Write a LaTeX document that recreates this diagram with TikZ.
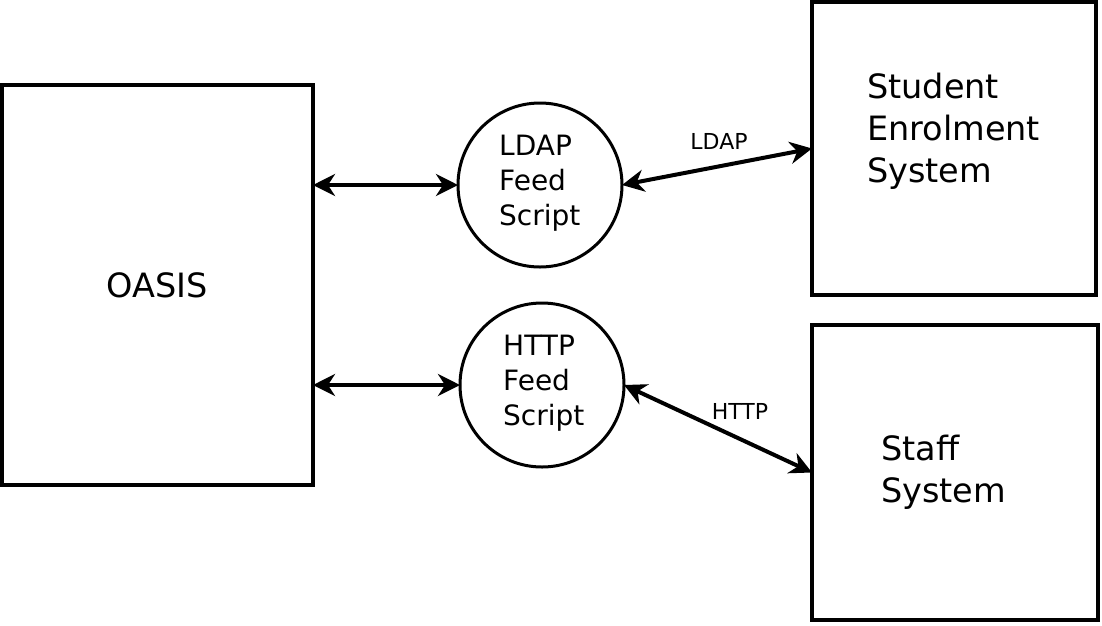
\documentclass[tikz,border=0pt]{standalone}
\usepackage{fontspec}
\setmainfont{DejaVu Sans}
\usetikzlibrary{arrows.meta}
\begin{document}
\begin{tikzpicture}[x=1pt,y=-1pt,
  box/.style={draw,line width=4pt,rectangle,inner sep=0pt,outer sep=0pt},
  feed/.style={draw,line width=3pt,circle,minimum size=164pt,inner sep=0pt,outer sep=0pt},
  boxtext/.style={anchor=north west,inner sep=0pt,align=left,font=\fontsize{33.5}{42}\selectfont},
  feedtext/.style={anchor=north west,inner sep=0pt,align=left,font=\fontsize{28}{35}\selectfont},
  lbl/.style={inner sep=0pt,font=\fontsize{22}{26}\selectfont},
  link/.style={line width=4pt,{Stealth[length=22pt,width=22pt,inset=7pt]}-{Stealth[length=22pt,width=22pt,inset=7pt]}}
]
\useasboundingbox (0,0) rectangle (1102,625);
\node[box,minimum width=311pt,minimum height=400pt,font=\fontsize{33.5}{42}\selectfont] (oasis) at (157.5,285) {OASIS};
\node[feed] (ldap) at (540,185) {};
\node[feed] (http) at (542,385) {};
\node[box,minimum width=284pt,minimum height=293pt] (student) at (954,148.5) {};
\node[box,minimum width=286pt,minimum height=295pt] (staff) at (955,472.5) {};
\node[feedtext] (ldapt) at (499,134.6) {LDAP\\Feed\\Script};
\node[feedtext] (httpt) at (503,334.6) {HTTP\\Feed\\Script};
\node[boxtext] (studentt) at (867,72.5) {Student\\Enrolment\\System};
\node[boxtext] (stafft) at (881,434.5) {Staff\\System};
\draw[link] (oasis.east |- ldap.west) -- (ldap.west);
\draw[link] (oasis.east |- http.west) -- (http.west);
\draw[link] (ldap.east) -- (student.west);
\draw[link] (http.east) -- (staff.west);
\node[lbl] (ldapl) at (719,141) {LDAP};
\node[lbl] (httpl) at (740,411) {HTTP};
\end{tikzpicture}
\end{document}
